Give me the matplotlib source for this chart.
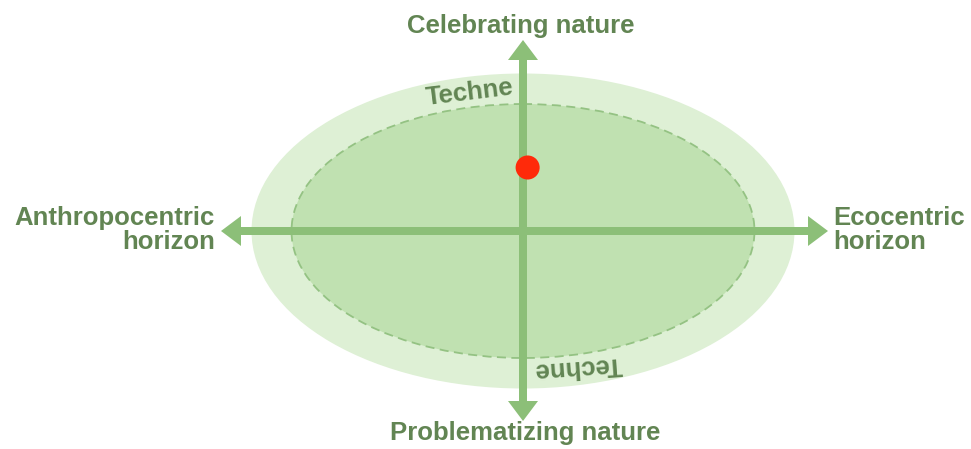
import matplotlib
matplotlib.use("Agg")
import matplotlib.pyplot as plt
from matplotlib.patches import Ellipse, FancyArrow

# Data / labels
axis_labels = ["Celebrating nature", "Problematizing nature", "Anthropocentric\nhorizon", "Ecocentric\nhorizon"]
ring_label = "Techne"
# point position relative to center (x right, y up), in axis units (-1..1)
point_x = [0.02]
point_y = [0.50]

W, H = 971, 449
fig = plt.figure(figsize=(W / 100, H / 100), dpi=100)
ax = fig.add_axes([0, 0, 1, 1])
ax.set_xlim(0, W)
ax.set_ylim(H, 0)
ax.axis("off")

cx, cy = 523, 231
text_col = "#628553"
arrow_col = "#8cbf78"

outer = Ellipse((cx, cy), 543, 315, facecolor="#def0d5", edgecolor="none", zorder=1)
inner = Ellipse((cx, cy), 463, 254, facecolor="#c0e1b1", edgecolor="#94c283",
                linestyle=(0, (5, 3)), linewidth=1.3, zorder=2)
ax.add_patch(outer)
ax.add_patch(inner)

# arrows
kw = dict(width=8, head_width=30, head_length=20, length_includes_head=True,
          color=arrow_col, lw=0, zorder=3)
ax.add_patch(FancyArrow(cx, cy, -(cx - 221), 0, **kw))
ax.add_patch(FancyArrow(cx, cy, 828 - cx, 0, **kw))
ax.add_patch(FancyArrow(cx, cy, 0, 40 - cy, **kw))
ax.add_patch(FancyArrow(cx, cy, 0, 421 - cy, **kw))

# point
half_w, half_h = 463 / 2, 254 / 2
px = [cx + v * half_w for v in point_x]
py = [cy - v * half_h for v in point_y]
ax.scatter(px, py, s=300, color="#ff2a0a", edgecolors="none", zorder=5)

font = dict(family=["Liberation Sans", "DejaVu Sans"], fontweight="bold", color=text_col, fontsize=18.5)
ax.text(521, 26, axis_labels[0], ha="center", va="center", **font)
ax.text(525, 433, axis_labels[1], ha="center", va="center", **font)
ax.text(215, 230, axis_labels[2], ha="right", va="center", linespacing=0.95, **font)
ax.text(833, 230, axis_labels[3], ha="left", va="center", linespacing=0.95, **font)

ax.text(470, 93, ring_label, ha="center", va="center", rotation=7, zorder=4, **font)
ax.text(578, 367, ring_label, ha="center", va="center", rotation=184, zorder=4, **font)

fig.savefig("out.png", dpi=100)
